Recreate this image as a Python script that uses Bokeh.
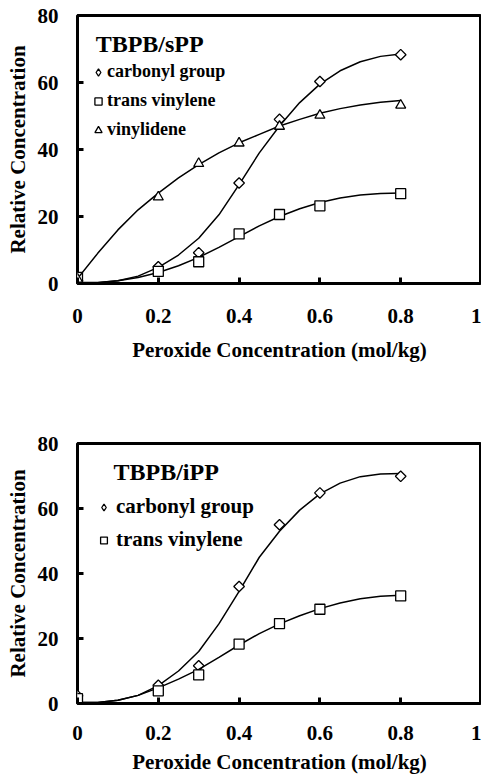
import math
from bokeh.plotting import figure
from bokeh.layouts import column
from bokeh.models import Legend, LegendItem, FixedTicker, Range1d, Label
from bokeh.embed import file_html
from bokeh.resources import INLINE

# ---------------- data ----------------
x_pts = [0.0, 0.2, 0.3, 0.4, 0.5, 0.6, 0.8]

# TBPB/sPP measured points
spp_carbonyl = [0.8, 5.0, 9.2, 30.0, 49.0, 60.3, 68.3]
spp_trans = [1.8, 3.6, 6.5, 14.8, 20.6, 23.2, 26.8]
spp_vinylidene = [1.3, 25.8, 35.8, 41.9, 46.9, 50.2, 53.2]

# TBPB/sPP fitted curves
curve_x = [0.0, 0.05, 0.1, 0.15, 0.2, 0.25, 0.3, 0.35, 0.4, 0.45, 0.5, 0.55, 0.6, 0.65, 0.7, 0.75, 0.8]
spp_carbonyl_fit = [0.0, 0.2, 0.8, 2.2, 4.8, 8.5, 13.5, 20.5, 29.5, 39.0, 47.0, 54.0, 59.5, 63.5, 66.2, 67.8, 68.5]
spp_trans_fit = [0.3, 0.3, 0.8, 1.8, 3.3, 5.3, 7.8, 10.8, 14.0, 17.2, 20.0, 22.3, 24.2, 25.5, 26.4, 26.9, 27.0]
spp_vinylidene_fit = [1.5, 9.0, 16.0, 22.0, 27.0, 31.5, 35.5, 39.0, 42.0, 44.5, 47.0, 49.0, 50.8, 52.2, 53.3, 54.1, 54.6]

# TBPB/iPP measured points
ipp_carbonyl = [2.4, 5.6, 11.6, 36.0, 55.0, 64.8, 69.9]
ipp_trans = [1.5, 3.9, 8.8, 18.3, 24.6, 29.0, 33.1]

# TBPB/iPP fitted curves
ipp_carbonyl_fit = [0.3, 0.3, 1.0, 2.5, 5.5, 10.0, 16.0, 24.5, 34.5, 45.0, 53.0, 59.5, 64.5, 67.8, 69.8, 70.6, 70.8]
ipp_trans_fit = [0.3, 0.3, 1.0, 2.5, 4.8, 7.5, 10.5, 14.2, 18.0, 21.5, 24.5, 27.0, 29.2, 30.9, 32.2, 33.0, 33.3]

x_ticks = [0, 0.2, 0.4, 0.6, 0.8, 1]
x_tick_labels = ["0", "0.2", "0.4", "0.6", "0.8", "1"]
y_ticks = [0, 20, 40, 60, 80]
y_tick_labels = ["0", "20", "40", "60", "80"]

FONT = "Liberation Serif"


def make_fig(height, top, bottom, left, tick_standoff, label_standoff):
    p = figure(width=481, height=height, output_backend="svg", toolbar_location=None,
               x_range=Range1d(0, 1), y_range=Range1d(0, 80),
               min_border_left=left, min_border_right=0,
               min_border_top=top, min_border_bottom=bottom)
    p.grid.visible = False
    p.outline_line_color = "black"
    p.outline_line_width = 3
    p.outline_line_alpha = 1
    p.background_fill_color = "white"
    p.border_fill_color = "white"
    p.xaxis.ticker = FixedTicker(ticks=x_ticks)
    p.yaxis.ticker = FixedTicker(ticks=y_ticks)
    p.xaxis.major_label_overrides = dict(zip(x_ticks, x_tick_labels))
    p.yaxis.major_label_overrides = dict(zip(y_ticks, y_tick_labels))
    for ax in (p.xaxis, p.yaxis):
        ax.axis_line_color = None
        ax.minor_tick_line_color = None
        ax.major_tick_in = 6
        ax.major_tick_out = 0
        ax.major_tick_line_width = 3
        ax.major_tick_line_color = "black"
        ax.major_label_text_font = FONT
        ax.major_label_text_font_style = "bold"
        ax.major_label_text_font_size = "21px"
        ax.major_label_text_color = "black"
        ax.axis_label_text_font = FONT
        ax.axis_label_text_font_style = "bold"
        ax.axis_label_text_font_size = "21px"
        ax.axis_label_text_color = "black"
    p.xaxis.axis_label = "Peroxide Concentration (mol/kg)"
    p.yaxis.axis_label = "Relative Concentration"
    p.xaxis.major_label_standoff = tick_standoff
    p.xaxis.axis_label_standoff = label_standoff
    p.yaxis.major_label_standoff = 19
    p.yaxis.axis_label_standoff = 5
    return p


def add_series(p, ys, fit, marker):
    p.line(curve_x, fit, line_color="black", line_width=1.5)
    if marker == "diamond":
        p.scatter(x_pts, ys, marker="square", angle=math.pi / 4, size=7.5,
                  fill_color="white", line_color="black", line_width=1.3)
        # legend-only renderer (an undrawn NaN point) so that the legend shows a diamond
        return p.scatter([math.nan], [math.nan], marker="diamond", size=10, fill_color="white",
                         line_color="black", line_width=1.3)
    return p.scatter(x_pts, ys, marker=marker, size=10, fill_color="white",
                     line_color="black", line_width=1.3)


def add_title(p, text, x, y):
    p.add_layout(Label(x=x, y=y, text=text, text_font=FONT, text_font_style="bold",
                       text_font_size="24px", text_color="black", text_baseline="middle"))


# ---------- top: sPP ----------
p1 = make_fig(375, 15, 92, 77, 25, 12)
r1 = add_series(p1, spp_carbonyl, spp_carbonyl_fit, "diamond")
r2 = add_series(p1, spp_trans, spp_trans_fit, "square")
r3 = add_series(p1, spp_vinylidene, spp_vinylidene_fit, "triangle")
add_title(p1, "TBPB/sPP", 0.045, 71.6)
leg1 = Legend(items=[LegendItem(label="carbonyl group", renderers=[r1]),
                     LegendItem(label="trans vinylene", renderers=[r2]),
                     LegendItem(label="vinylidene", renderers=[r3])],
              location=(12, 143),
              label_text_font=FONT, label_text_font_style="bold", label_text_font_size="18px",
              label_text_color="black",
              glyph_width=18, glyph_height=20, label_height=20, spacing=8, label_standoff=0,
              padding=0, margin=0,
              border_line_color=None, background_fill_alpha=0)
p1.add_layout(leg1)

# ---------- bottom: iPP ----------
p2 = make_fig(405, 68, 77, 76, 22, 7)
s1 = add_series(p2, ipp_carbonyl, ipp_carbonyl_fit, "diamond")
s2 = add_series(p2, ipp_trans, ipp_trans_fit, "square")
add_title(p2, "TBPB/iPP", 0.089, 71.1)
leg2 = Legend(items=[LegendItem(label="carbonyl group", renderers=[s1]),
                     LegendItem(label="trans vinylene", renderers=[s2])],
              location=(18, 151),
              label_text_font=FONT, label_text_font_style="bold", label_text_font_size="21px",
              label_text_color="black",
              glyph_width=17, glyph_height=24, label_height=24, spacing=8, label_standoff=4,
              padding=0, margin=0,
              border_line_color=None, background_fill_alpha=0)
p2.add_layout(leg2)

layout = column(p1, p2, spacing=0)
open("out.html", "w").write(file_html(layout, INLINE))
